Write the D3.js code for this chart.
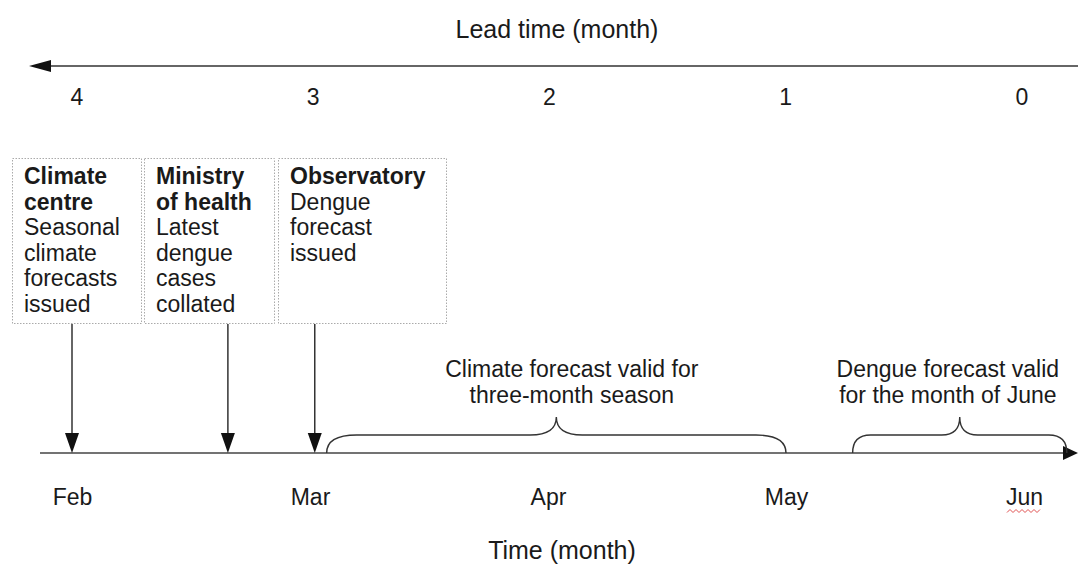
<!DOCTYPE html>
<html>
<head>
<meta charset="utf-8">
<script src="https://cdn.jsdelivr.net/npm/d3@7"></script>
<style>
  body { margin: 0; background: #fff; }
  text { font-family: "Liberation Sans", Arial, sans-serif; fill: #1a1a1a; }
</style>
</head>
<body>
<script>
// month labels on the time axis (position = index, Feb = 0)
var months = ["Feb", "Mar", "Apr", "May", "Jun"];
// lead time labels, 4 months ahead down to 0
var leadTicks = [4, 3, 2, 1, 0];

// who does what, and when (in months after start of Feb)
var orgs = ["Climate centre", "Ministry of health", "Observatory"];
var orgTitles = [["Climate", "centre"], ["Ministry", "of health"], ["Observatory"]];
var orgTasks = [["Seasonal", "climate", "forecasts", "issued"],
                ["Latest", "dengue", "cases", "collated"],
                ["Dengue", "forecast", "issued"]];
var orgTimes = [0.0, 0.655, 1.02];

// validity periods (month units)
var periodNames = ["Climate forecast", "Dengue forecast"];
var periodStart = [1.07, 3.28];
var periodEnd = [3.0, 4.18];
var periodLabelAt = [2.1, 3.68];
var periodLabels = [["Climate forecast valid for", "three-month season"],
                    ["Dengue forecast valid", "for the month of June"]];

var W = 1078, H = 570;
var fs = 23;

var svg = d3.select("body").append("svg")
    .attr("width", W)
    .attr("height", H);

// time scale (months) and lead time scale
var x = d3.scaleLinear().domain([0, 4]).range([72, 1024]);
var xLead = d3.scaleLinear().domain([4, 0]).range([77, 1022]);

// ---- top: lead time ----
svg.append("text")
    .attr("x", 557).attr("y", 38)
    .attr("text-anchor", "middle")
    .style("font-size", "25px")
    .text("Lead time (month)");

var topY = 66;
svg.append("line")
    .attr("x1", 46).attr("x2", W)
    .attr("y1", topY).attr("y2", topY)
    .attr("stroke", "#666").attr("stroke-width", 2);
svg.append("path")
    .attr("d", "M29," + topY + " L51," + (topY - 6) + " L51," + (topY + 6) + " Z")
    .attr("fill", "#111");

svg.selectAll(".lead")
    .data(leadTicks)
    .enter().append("text")
    .attr("class", "lead")
    .attr("x", function (d) { return xLead(d); })
    .attr("y", 105)
    .attr("text-anchor", "middle")
    .style("font-size", fs + "px")
    .text(function (d) { return d; });

// ---- boxes ----
var boxX = [12, 144, 278], boxW = [129, 130, 168];
var boxTop = 158, boxBottom = 323;

var boxes = svg.selectAll(".box")
    .data(orgs)
    .enter().append("g")
    .attr("class", "box");

boxes.append("rect")
    .attr("x", function (d, i) { return boxX[i] + 0.5; })
    .attr("y", boxTop + 0.5)
    .attr("width", function (d, i) { return boxW[i]; })
    .attr("height", boxBottom - boxTop)
    .attr("fill", "#fff")
    .attr("stroke", "#aaa")
    .attr("stroke-width", 1)
    .attr("stroke-dasharray", "1.5,1.5");

boxes.each(function (d, i) {
    var g = d3.select(this);
    var lines = orgTitles[i].map(function (t) { return {t: t, b: true}; })
        .concat(orgTasks[i].map(function (t) { return {t: t, b: false}; }));
    g.selectAll("text")
        .data(lines)
        .enter().append("text")
        .attr("x", boxX[i] + 12)
        .attr("y", function (l, j) { return 184 + j * 25.6; })
        .style("font-size", fs + "px")
        .style("font-weight", function (l) { return l.b ? "bold" : "normal"; })
        .text(function (l) { return l.t; });
});

// ---- bottom time axis ----
var axisY = 453;
svg.append("line")
    .attr("x1", 40).attr("x2", 1066)
    .attr("y1", axisY).attr("y2", axisY)
    .attr("stroke", "#444").attr("stroke-width", 1.6);
svg.append("path")
    .attr("d", "M1078," + axisY + " L1063," + (axisY - 7) + " L1063," + (axisY + 7) + " Z")
    .attr("fill", "#111");

// arrows from boxes down to the axis
svg.selectAll(".evline")
    .data(orgTimes)
    .enter().append("line")
    .attr("x1", function (d) { return x(d); })
    .attr("x2", function (d) { return x(d); })
    .attr("y1", boxBottom + 1)
    .attr("y2", axisY - 18)
    .attr("stroke", "#333").attr("stroke-width", 1.5);
svg.selectAll(".evhead")
    .data(orgTimes)
    .enter().append("path")
    .attr("d", function (d) {
        var px = x(d);
        return "M" + px + "," + axisY + " L" + (px - 7) + "," + (axisY - 20) +
            " L" + (px + 7) + "," + (axisY - 20) + " Z";
    })
    .attr("fill", "#111");

// braces
function brace(x0, x1, pk, yb, yt, ytip, cw, mw) {
    return "M" + x0 + "," + yb +
        " C" + x0 + "," + (yt + 5) + " " + (x0 + cw * 0.35) + "," + yt + " " + (x0 + cw) + "," + yt +
        " L" + (pk - mw) + "," + yt +
        " C" + (pk - mw * 0.35) + "," + yt + " " + pk + "," + (yt - 6) + " " + pk + "," + ytip +
        " C" + pk + "," + (yt - 6) + " " + (pk + mw * 0.35) + "," + yt + " " + (pk + mw) + "," + yt +
        " L" + (x1 - cw) + "," + yt +
        " C" + (x1 - cw * 0.35) + "," + yt + " " + x1 + "," + (yt + 5) + " " + x1 + "," + yb;
}

svg.selectAll(".brace")
    .data(periodNames)
    .enter().append("path")
    .attr("class", "brace")
    .attr("d", function (d, i) {
        var a = x(periodStart[i]), b = x(periodEnd[i]);
        var cw = i == 0 ? 30 : 18, mw = i == 0 ? 26 : 18;
        return brace(a, b, (a + b) / 2, axisY, 435, 417, cw, mw);
    })
    .attr("fill", "none")
    .attr("stroke", "#333")
    .attr("stroke-width", 1.4);

svg.selectAll(".plabel")
    .data(periodNames)
    .enter().append("text")
    .attr("class", "plabel")
    .attr("x", function (d, i) { return x(periodLabelAt[i]); })
    .attr("y", 377)
    .attr("text-anchor", "middle")
    .style("font-size", fs + "px")
    .each(function (d, i) {
        var t = d3.select(this);
        periodLabels[i].forEach(function (s, j) {
            t.append("tspan")
                .attr("x", x(periodLabelAt[i]))
                .attr("dy", j == 0 ? 0 : 25.5)
                .text(s);
        });
    });

// month labels via axis
var ax = svg.append("g")
    .attr("transform", "translate(0," + axisY + ")")
    .call(d3.axisBottom(x)
        .tickValues(d3.range(months.length))
        .tickFormat(function (d) { return months[d]; })
        .tickSize(0)
        .tickPadding(36));
ax.select(".domain").remove();
ax.selectAll("text")
    .attr("fill", "#1a1a1a")
    .style("font-size", fs + "px")
    .style("font-family", "'Liberation Sans', Arial, sans-serif")
    .attr("dy", "0.71em");

// spell-check squiggle under "Jun"
var jx = x(4), sq = d3.range(0, 36, 3).map(function (k, j) {
    return [jx - 17 + k, 511 + (j % 2 ? -1.5 : 1.5)];
});
svg.append("path")
    .attr("d", d3.line()(sq))
    .attr("fill", "none")
    .attr("stroke", "#e05050")
    .attr("stroke-width", 1);

svg.append("text")
    .attr("x", 562).attr("y", 559)
    .attr("text-anchor", "middle")
    .style("font-size", "25px")
    .text("Time (month)");
</script>
</body>
</html>
